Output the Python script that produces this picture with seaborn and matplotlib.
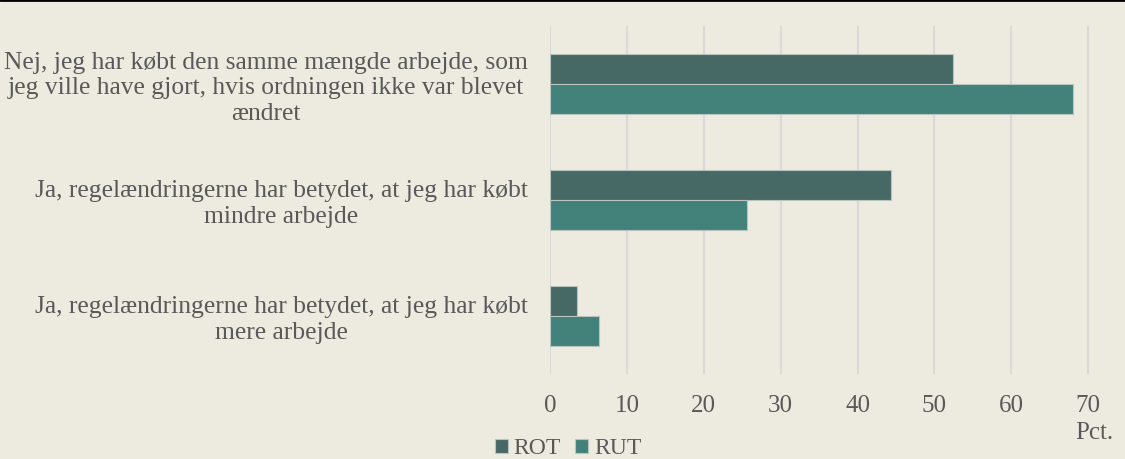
import matplotlib
matplotlib.use("Agg")
import matplotlib.pyplot as plt
import seaborn as sns
import pandas as pd

categories = [
    "Nej, jeg har købt den samme mængde arbejde, som\njeg ville have gjort, hvis ordningen ikke var blevet\nændret",
    "Ja, regelændringerne har betydet, at jeg har købt\nmindre arbejde",
    "Ja, regelændringerne har betydet, at jeg har købt\nmere arbejde",
]
rot_values = [52.4, 44.3, 3.5]
rut_values = [68.0, 25.6, 6.4]
series = ["ROT", "RUT"]
x_ticks = [0, 10, 20, 30, 40, 50, 60, 70]

df = pd.DataFrame({
    "cat": categories * 2,
    "val": rot_values + rut_values,
    "serie": [series[0]] * 3 + [series[1]] * 3,
})

bg = "#EDEBE0"
txt = "#595959"
fs = 18
sns.set_theme(style="white")
plt.rcParams["font.family"] = ["Liberation Serif", "DejaVu Serif"]

fig = plt.figure(figsize=(11.25, 4.59), dpi=100, facecolor=bg)
ax = fig.add_axes([0.4889, 0.1852, 0.4853, 0.7582])
ax.set_facecolor(bg)

sns.barplot(data=df, y="cat", x="val", hue="serie", orient="h",
            palette=["#466966", "#42827B"], saturation=1, width=0.52, ax=ax,
            edgecolor="#B9C4BE", linewidth=0.8, legend=True, zorder=3)

ax.set_xlim(0, 71)
ax.set_ylim(2.5, -0.5)
ax.set_xticks(x_ticks)
ax.set_xticklabels([str(t) for t in x_ticks])
ax.grid(axis="x", color="#D9D9D9", linewidth=1.5, zorder=0)
ax.set_axisbelow(True)
for s in ax.spines.values():
    s.set_visible(False)
ax.set_xlabel("")
ax.set_ylabel("")
ax.tick_params(axis="x", length=0, pad=15, labelsize=fs, labelcolor=txt)
ax.tick_params(axis="y", length=0, pad=16, labelsize=18.4, labelcolor=txt)
for lbl in ax.get_yticklabels():
    lbl.set_multialignment("center")
    lbl.set_linespacing(1.23)

handles, labels = ax.get_legend_handles_labels()
ax.get_legend().remove()
fig.legend(handles, labels, loc="center", bbox_to_anchor=(0.505, 0.022), ncol=2,
           frameon=False, fontsize=17, labelcolor=txt, handlelength=0.55,
           handleheight=0.55, handletextpad=0.25, columnspacing=0.6, borderpad=0)

fig.text(0.990, 0.057, "Pct.", ha="right", va="center", fontsize=fs, color=txt)

fig.add_artist(plt.Line2D([0, 1], [0.999, 0.999], color="black", linewidth=2, transform=fig.transFigure))

fig.savefig("out.png", dpi=100, facecolor=bg)
